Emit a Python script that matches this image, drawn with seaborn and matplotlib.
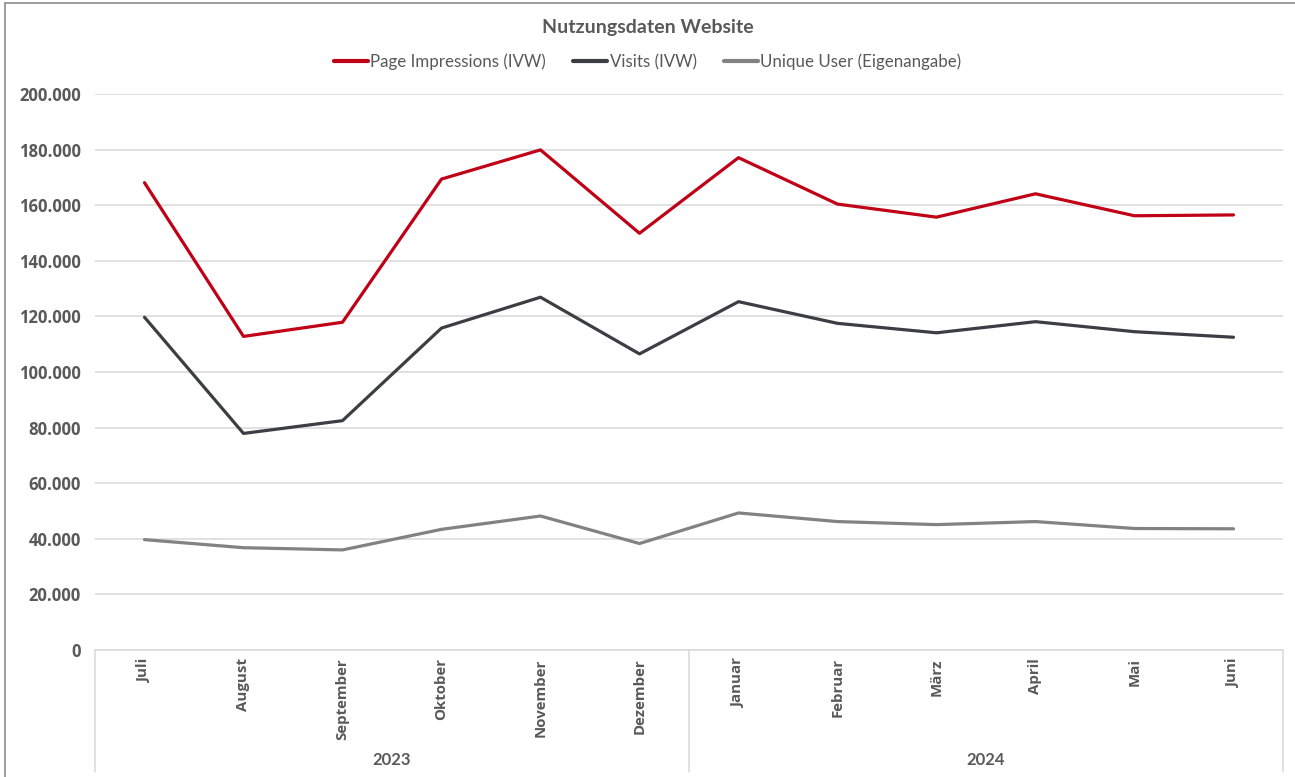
import matplotlib
matplotlib.use("Agg")
import matplotlib.pyplot as plt
from matplotlib.lines import Line2D
import matplotlib.ticker as mticker
import numpy as np
import pandas as pd
import seaborn as sns

# Monthly usage figures, July 2023 - June 2024
months = ["Juli", "August", "September", "Oktober", "November", "Dezember",
          "Januar", "Februar", "März", "April", "Mai", "Juni"]
years = ["2023", "2024"]
months_per_year = [6, 6]

page_impressions = [168100, 112800, 117900, 169400, 179900, 149900,
                    177100, 160400, 155700, 164100, 156200, 156500]
visits = [119700, 77900, 82500, 115800, 126900, 106500,
          125300, 117500, 114100, 118100, 114500, 112500]
unique_user = [39700, 36800, 36000, 43400, 48200, 38300,
               49300, 46200, 45100, 46200, 43700, 43600]

series_names = ["Page Impressions (IVW)", "Visits (IVW)", "Unique User (Eigenangabe)"]
series_colors = ["#C00016", "#3B3E43", "#828282"]

df = pd.concat([
    pd.DataFrame({"Monat": months, "Wert": vals, "Reihe": name})
    for name, vals in zip(series_names, [page_impressions, visits, unique_user])
], ignore_index=True)

sns.set_theme(style="white")
plt.rcParams["font.family"] = ["Lato", "DejaVu Sans"]

TXT = "#595959"
TICK_FONT = ["Open Sans", "DejaVu Sans"]

fig = plt.figure(figsize=(12.95, 7.77), dpi=100)
ax = fig.add_axes([95 / 1295, 1 - 650 / 777, (1283 - 95) / 1295, (650 - 94) / 777])

sns.lineplot(data=df, x="Monat", y="Wert", hue="Reihe", hue_order=series_names,
             palette=series_colors, linewidth=2.3, sort=False, ax=ax, legend=False)

ax.set_xlim(-0.5, len(months) - 0.5)
ax.set_ylim(0, 200000)
ax.set_xlabel("")
ax.set_ylabel("")

# y axis: German thousands separator
ax.yaxis.set_major_locator(mticker.MultipleLocator(20000))
ax.yaxis.set_major_formatter(mticker.FuncFormatter(
    lambda v, p: "0" if v == 0 else f"{int(v):,}".replace(",", ".")))
ax.yaxis.grid(True, color="#D9D9D9", linewidth=1.1)
ax.xaxis.grid(False)
for s in ax.spines.values():
    s.set_visible(False)

ax.tick_params(axis="both", length=0)
ax.tick_params(axis="y", pad=10)
ax.tick_params(axis="x", pad=6)
for lab in ax.get_yticklabels():
    lab.set_fontfamily(TICK_FONT)
    lab.set_fontweight("bold")
    lab.set_fontsize(12)
    lab.set_color(TXT)

ax.set_xticks(range(len(months)))
ax.set_xticklabels(months, rotation=90, ha="center", va="top",
                   fontsize=10.8, color=TXT, fontweight="bold",
                   fontfamily=TICK_FONT)

# two-level category axis: baseline, year separators and year labels
sep_color = "#D9D9D9"
ax.add_line(Line2D([-0.5, len(months) - 0.5], [0, 0], color=sep_color, lw=1.1,
                   transform=ax.get_xaxis_transform(), clip_on=False))
bounds = np.concatenate([[0], np.cumsum(months_per_year)]) - 0.5
for b in bounds:
    ax.add_line(Line2D([b, b], [0, -(772 - 650) / 556], color=sep_color, lw=1.1,
                       transform=ax.get_xaxis_transform(), clip_on=False))
for y, lo, hi in zip(years, bounds[:-1], bounds[1:]):
    ax.text((lo + hi) / 2, -(760 - 650) / 556, y, ha="center", va="center",
            fontsize=12, color=TXT, fontweight="bold",
            transform=ax.get_xaxis_transform())

fig.text(0.5, 1 - 28 / 777, "Nutzungsdaten Website", ha="center", va="center",
         fontsize=14, fontweight="bold", color=TXT)

handles = [Line2D([0], [0], color=c, lw=3) for c in series_colors]
leg = fig.legend(handles, series_names, loc="center", bbox_to_anchor=(0.5, 1 - 62 / 777),
                 ncol=3, frameon=False, fontsize=12.2, handlelength=2.0,
                 handletextpad=0.15, columnspacing=1.6)
for t in leg.get_texts():
    t.set_color(TXT)

# outer chart frame (top and left edges)
fig.add_artist(Line2D([5 / 1295, 1], [1 - 3 / 777, 1 - 3 / 777], color="#8C8C8C",
                      lw=1.2, transform=fig.transFigure))
fig.add_artist(Line2D([5 / 1295, 5 / 1295], [0, 1 - 3 / 777], color="#8C8C8C",
                      lw=1.2, transform=fig.transFigure))

fig.savefig("out.png", dpi=100)
